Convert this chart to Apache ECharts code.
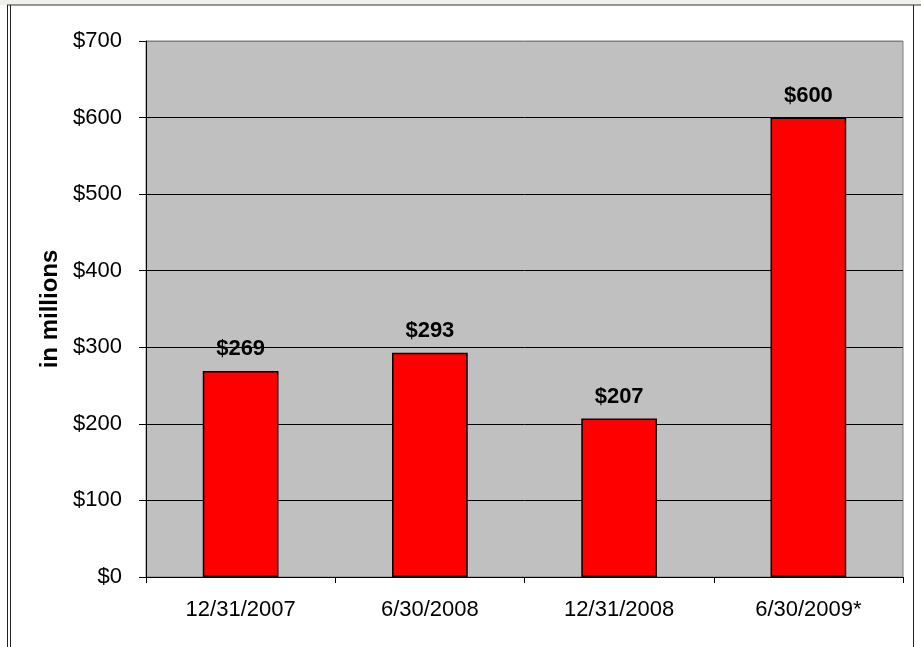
<!DOCTYPE html>
<html>
<head>
<meta charset="utf-8">
<script src="https://cdn.jsdelivr.net/npm/echarts@6/dist/echarts.min.js"></script>
<style>
html,body{margin:0;padding:0;background:#fff;}
#c{width:921px;height:647px;}
</style>
</head>
<body>
<div id="c"></div>
<script>
const categories = ['12/31/2007', '6/30/2008', '12/31/2008', '6/30/2009*'];
const values = [269, 293, 207, 600];
const yTicks = [0, 100, 200, 300, 400, 500, 600, 700];

const chart = echarts.init(document.getElementById('c'), null, {renderer: 'canvas'});
const FONT = '"Liberation Sans", Arial, sans-serif';

chart.setOption({
  backgroundColor: '#ffffff',
  animation: false,
  textStyle: {fontFamily: FONT},
  graphic: [
    {type: 'rect', shape: {x: 0, y: 0, width: 921, height: 5}, style: {fill: '#F1EFEA'}, silent: true},
    {type: 'line', shape: {x1: 7, y1: 5, x2: 921, y2: 5}, style: {stroke: '#333', lineWidth: 1}},
    {type: 'line', shape: {x1: 7.5, y1: 5, x2: 7.5, y2: 647}, style: {stroke: '#222', lineWidth: 1}},
    {type: 'line', shape: {x1: 10.5, y1: 5, x2: 10.5, y2: 647}, style: {stroke: '#222', lineWidth: 1}},
    {type: 'line', shape: {x1: 913.5, y1: 5, x2: 913.5, y2: 647}, style: {stroke: '#222', lineWidth: 1}}
  ],
  grid: {
    left: 146, top: 41, right: 18, bottom: 70,
    show: true, backgroundColor: '#C0C0C0', borderColor: '#808080', borderWidth: 1
  },
  xAxis: {
    type: 'category',
    data: categories,
    axisLine: {show: true, lineStyle: {color: '#000', width: 1}},
    axisTick: {show: true, length: 6, alignWithLabel: false, lineStyle: {color: '#000'}},
    axisLabel: {color: '#000', fontSize: 22, fontFamily: FONT, margin: 22, interval: 0},
    splitLine: {show: false}
  },
  yAxis: {
    type: 'value',
    min: 0, max: 700, interval: 100,
    name: 'in millions',
    nameLocation: 'middle',
    nameGap: 84,
    nameTextStyle: {color: '#000', fontSize: 24, fontWeight: 'bold', fontFamily: FONT},
    axisLine: {show: true, lineStyle: {color: '#000', width: 1}},
    axisTick: {show: true, length: 7, lineStyle: {color: '#000'}},
    axisLabel: {
      color: '#000', fontSize: 22, fontFamily: FONT, margin: 24,
      formatter: v => yTicks.includes(v) ? '$' + v : ''
    },
    splitLine: {show: true, lineStyle: {color: ['#000','#000','#000','#000','#000','#000','#000','#808080'], width: 1}}
  },
  series: [{
    type: 'bar',
    data: values,
    barWidth: '40%',
    itemStyle: {color: '#FF0000', borderColor: '#000', borderWidth: 1.5},
    label: {
      show: true, position: 'top', distance: 11,
      formatter: p => '$' + p.value,
      color: '#000', fontSize: 22, fontWeight: 'bold', fontFamily: FONT
    }
  }]
});
</script>
</body>
</html>
